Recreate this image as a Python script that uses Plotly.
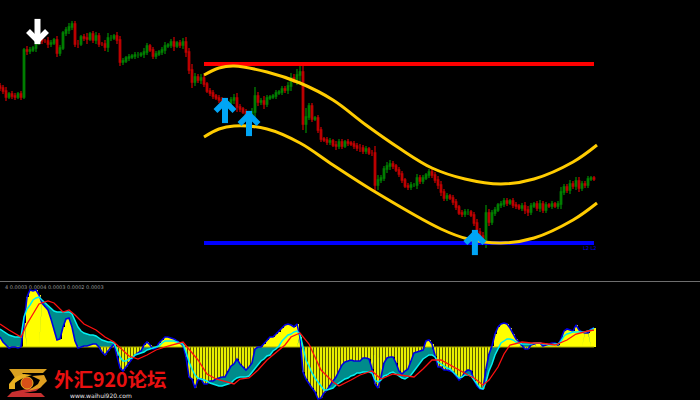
import plotly.graph_objects as go
import numpy as np

# ---------- price pane ----------
closes = [312,309,303,306,304,303,306,303,350,349,350,352,358,362,359,359,356,357,360,347,
352,367,370,373,376,356,356,363,362,361,366,360,364,356,356,353,362,362,364,360,
338,339,342,343,344,345,345,346,348,354,350,344,346,348,350,354,355,358,354,357,
355,358,348,330,318,323,320,322,316,309,307,304,302,300,297,296,297,300,302,293,
291,288,285,286,288,304,298,299,296,302,303,304,307,308,311,310,314,322,321,325,
328,276,283,294,281,282,270,261,260,258,259,255,254,258,254,258,257,256,254,252,
252,249,251,247,247,215,220,222,231,234,236,234,230,226,220,214,213,215,215,222,
219,222,225,228,225,220,215,208,202,204,202,198,193,187,186,188,188,185,177,168,
164,160,187,178,187,190,195,196,199,197,199,195,194,192,194,190,188,194,196,192,
196,190,195,194,196,194,196,208,213,210,216,214,219,212,216,215,221,222,221]
wicks = [3,3,4,2,3,3,2,3,2,4,3,2,4,3,3,2,4,3,2,4,
3,2,3,4,3,3,4,2,3,5,2,3,4,3,2,4,5,3,2,4,
4,3,2,3,2,3,3,2,4,3,2,3,3,2,3,4,2,3,5,2,
3,4,5,4,6,4,3,4,3,2,3,3,2,3,3,4,2,3,4,5,
3,2,3,3,4,9,4,3,5,3,2,2,3,2,3,3,4,5,4,6,
7,6,9,3,3,2,3,3,2,3,3,2,4,3,3,2,3,2,3,3,
4,3,3,2,3,7,5,3,3,4,4,3,2,3,3,2,3,3,2,4,
3,3,2,3,3,3,4,4,3,3,2,3,3,2,3,3,3,2,3,4,
4,4,8,4,3,3,2,3,3,3,2,3,3,2,3,4,4,3,2,3,
4,3,3,2,3,2,3,5,3,3,4,3,4,4,3,3,3,2,2]

upper_pos = [68,73,78,89,100,111,122,133,144,155,167,178,191,199]
upper_val = [325,332,334,328,317,300,275,252,232,221,216,221,238,255]
lower_pos = [68,73,78,89,100,111,124,147,156,167,178,191,199]
lower_val = [263,271,274,271,257,235,210,171,161,157,162,180,197]
resist_val = [336,336]
support_val = [157,157]
level_pos = [68,198]
sell_pos, sell_tip = [12.5], [358]
buy_pos, buy_tip = [75,83,158.3], [300,287,168]

# ---------- oscillator pane ----------
macd = [10,5,2,-1,0,0,-1,0,24,50,57,56,57,52,44,40,37,28,18,7,
8,20,28,29,20,6,-1,0,1,1,2,3,3,0,-5,-8,-4,0,3,-9,
-21,-24,-20,-15,-11,-8,-6,-4,2,5,2,-2,-1,4,7,10,10,9,8,6,
4,2,-10,-30,-32,-41,-33,-32,-37,-37,-34,-34,-32,-31,-30,-30,-24,-19,
-17,-12,-17,-20,-23,-20,-16,-2,0,0,3,7,10,10,13,15,19,22,23,22,20,23,
10,-25,-32,-37,-41,-45,-52,-51,-46,-43,-38,-34,-30,-24,-18,-15,-14,-13,-14,-14,
-14,-11,-11,-12,-22,-37,-41,-30,-16,-11,-10,-10,-16,-24,-27,-24,-22,-14,-6,-5,
-4,-3,6,7,3,-9,-20,-20,-23,-23,-24,-25,-29,-33,-30,-25,-23,-24,-33,-39,
-42,-42,-22,-7,1,13,20,23,24,23,19,13,8,5,1,-2,-2,2,3,4,
4,1,2,3,4,4,2,8,16,18,17,16,22,17,15,14,14,18,19]
signal = [18,16,14,12,11,10,10,10,30,38,42,47,49,50,47,44,41,38,36,35,
35,35,35,35,33,27,20,16,14,13,12,12,11,9,7,6,5,5,4,-3,
-10,-14,-14,-12,-11,-8,-7,-6,-5,-3,-2,-1,0,1,4,6,6,6,6,5,
4,3,-5,-15,-22,-28,-31,-32,-33,-34,-36,-37,-38,-39,-39,-38,-37,-36,
-33,-31,-30,-30,-30,-29,-25,-22,-17,-14,-12,-9,-8,-4,-2,1,6,9,12,13,15,16,
13,0,-13,-19,-26,-31,-35,-40,-43,-43,-42,-41,-38,-36,-34,-32,-31,-29,-28,-26,
-26,-25,-25,-25,-26,-33,-35,-33,-29,-28,-26,-25,-27,-29,-31,-32,-30,-28,-24,-20,
-15,-12,-10,-8,-8,-10,-15,-17,-19,-21,-22,-25,-28,-31,-30,-28,-28,-29,-33,-37,
-41,-42,-35,-24,-17,-8,-2,4,6,8,8,7,5,4,3,3,3,3,4,4,
4,3,3,2,2,3,3,6,11,13,14,15,15,15,15,15,16,17,19]
slow_pos = [0,3,7,9,11,13,16,18,21,23,25,28,32,35,38,41,43,46,49,52,56,61,63,66,69,72,78,80,83,86,89,92,95,97,100,103,107,111,113,117,120,124,127,131,134,138,141,144,147,151,156,158,161,163,166,168,170,174,177,180,185,189,192,196,198]
slow_val = [23,17,10,23,33,43,46,44,35,37,32,23,17,10,5,-3,-9,-12,-8,-3,1,5,-2,-13,-27,-32,-37,-32,-31,-23,-13,-5,2,10,14,3,-23,-35,-39,-33,-28,-24,-32,-27,-28,-30,-22,-13,-13,-20,-28,-31,-38,-33,-20,-7,2,5,4,4,2,7,13,16,17]

osc_labels = "4 0.0003 0.0004 0.0003 0.0002 0.0003"
site_name = "外汇920论坛"
site_url = "www.waihui920.com"

# ---------- derived ----------
closes = np.array(closes, float)
opens = np.r_[closes[0] + 2, closes[:-1]]
wicks = np.array(wicks, float)
highs = np.maximum(opens, closes) + wicks
lows = np.minimum(opens, closes) - wicks
idx = np.arange(len(closes))

macd = np.array(macd, float)
signal = np.array(signal, float)
n = min(len(macd), len(signal))
macd, signal = macd[:n], signal[:n]
oidx = np.arange(n)
# teal band between the two lines, clipped at the zero line
band_lo = np.where(signal > macd, np.maximum(macd, 0), np.minimum(signal, 0))
band_hi = np.where(signal > macd, np.maximum(signal, np.maximum(macd, 0)), np.minimum(macd, 0))
pos = macd >= 0

fig = go.Figure()
P = dict(xaxis="x", yaxis="y2")
O = dict(xaxis="x", yaxis="y")
none = dict(showlegend=False, hoverinfo="skip")

# oscillator
fig.add_bar(x=oidx[pos], y=macd[pos], width=1.0, marker=dict(color="#ffff00", line_width=0), **O, **none)
fig.add_bar(x=oidx[~pos], y=macd[~pos], width=1.0, marker=dict(color="#5a5a00", line_width=0), **O, **none)
fig.add_bar(x=oidx[~pos], y=macd[~pos], width=0.62, marker=dict(color="#e8f000", line_width=0), **O, **none)
fig.add_scatter(x=oidx, y=band_lo, mode="lines", line=dict(width=0, color="#008b8b"), **O, **none)
fig.add_scatter(x=oidx, y=band_hi, mode="lines", line=dict(width=0, color="#008b8b"),
                fill="tonexty", fillcolor="#008b8b", **O, **none)
fig.add_scatter(x=[0, n - 1], y=[0, 0], mode="lines", line=dict(width=1, color="#b0b000"), **O, **none)
fig.add_scatter(x=oidx, y=macd, mode="lines", line=dict(width=1.6, color="#0000e0"), **O, **none)
fig.add_scatter(x=oidx, y=signal, mode="lines", line=dict(width=1.5, color="#00f0f0"), **O, **none)
fig.add_scatter(x=slow_pos, y=slow_val, mode="lines", line=dict(width=1.3, color="#ff1010"), **O, **none)

# price
fig.add_candlestick(x=idx, open=opens, high=highs, low=lows, close=closes,
                    increasing=dict(line=dict(color="#008000", width=1.3), fillcolor="#008000"),
                    decreasing=dict(line=dict(color="#c00000", width=1.3), fillcolor="#c00000"),
                    whiskerwidth=0, **P, **none)
fig.add_scatter(x=level_pos, y=resist_val, mode="lines", line=dict(width=4, color="#ff0000"), **P, **none)
fig.add_scatter(x=level_pos, y=support_val, mode="lines", line=dict(width=4, color="#0000ff"), **P, **none)
for pos_, val_ in ((upper_pos, upper_val), (lower_pos, lower_val)):
    fig.add_scatter(x=pos_, y=val_, mode="lines", line=dict(width=3, color="#ffcc00", shape="spline"), **P, **none)

# arrows: shaft plus two barbs, placed from the tip value
def arrow(xs, tips, colour, direction):
    xs = np.array(xs, float)
    tips = np.array(tips, float)
    mk = lambda sym, size, w: dict(symbol=sym, size=size, line=dict(width=w, color=colour), color=colour)
    first, second = ("line-ne", "line-nw") if direction > 0 else ("line-nw", "line-ne")
    fig.add_scatter(x=xs, y=tips - direction * 10.5, mode="markers", marker=mk("line-ns", 18, 6), **P, **none)
    fig.add_scatter(x=xs - 1.5, y=tips - direction * 6, mode="markers", marker=mk(first, 10, 5.5), **P, **none)
    fig.add_scatter(x=xs + 1.5, y=tips - direction * 6, mode="markers", marker=mk(second, 10, 5.5), **P, **none)
arrow(buy_pos, buy_tip, "#00a5f5", 1)
arrow(sell_pos, sell_tip, "#ffffff", -1)

W, H = 700, 400
def px(x): return x / W
def py(y): return 1 - y / H
def path(points):
    return "M " + " L ".join(f"{px(a):.4f},{py(b):.4f}" for a, b in points) + " Z"

shapes = [
    # pane divider
    dict(type="line", xref="paper", yref="paper", x0=0, x1=1, y0=py(281.5), y1=py(281.5),
         line=dict(color="#6e6e6e", width=1.2)),
    # logo
    dict(type="path", xref="paper", yref="paper", path=path([(9,369),(47,369),(43,373),(22,373),(26,377),(17,381),(12,373)]),
         fillcolor="#d8a020", line_width=0),
    dict(type="path", xref="paper", yref="paper", path=path([(7,397),(45,397),(41,393),(24,393),(36,391),(42,386),(12,392)]),
         fillcolor="#c83030", line_width=0),
    dict(type="path", xref="paper", yref="paper", path=path([(9,384),(15,377),(24,374),(32,375),(22,378),(15,383),(15,389),(9,389)]),
         fillcolor="#e8b020", line_width=0),
    dict(type="path", xref="paper", yref="paper", path=path([(32,376),(44,375),(47,381),(40,388),(28,391),(38,384),(40,380)]),
         fillcolor="#e0a020", line_width=0),
    dict(type="circle", xref="paper", yref="paper", x0=px(21), x1=px(33), y0=py(389), y1=py(377),
         fillcolor="#d85018", line=dict(color="#f0b020", width=1)),
]
ann = dict(xref="paper", yref="paper", showarrow=False, xanchor="center", yanchor="middle")
annotations = [
    dict(ann, x=px(3), y=py(286.5), text=osc_labels, xanchor="left",
         font=dict(size=5, color="#9a9a9a", family="DejaVu Sans")),
    dict(ann, x=px(111), y=py(378.5), text=f"<b>{site_name}</b>",
         font=dict(size=19.5, color="#e81010", family="Noto Sans CJK SC")),
    dict(ann, x=px(101), y=py(395.5), text=site_url,
         font=dict(size=6, color="#e8e8e8", family="DejaVu Sans")),
    dict(ann, x=px(590), y=py(247.5), text="L2 L2",
         font=dict(size=5, color="#0000e0", family="DejaVu Sans")),
]

fig.update_layout(
    width=W, height=H, margin=dict(l=0, r=0, t=0, b=0),
    paper_bgcolor="#000000", plot_bgcolor="#000000", showlegend=False, barmode="overlay", bargap=0,
    xaxis=dict(range=[0, W / 3], visible=False, rangeslider=dict(visible=False), fixedrange=True),
    yaxis=dict(domain=[0, 117 / 400], range=[-53, 64], visible=False, fixedrange=True),
    yaxis2=dict(domain=[119 / 400, 1], range=[119, 400], visible=False, fixedrange=True),
    shapes=shapes, annotations=annotations,
)
fig.write_html("out.html", config={"displayModeBar": False},
               post_script="document.body.style.margin='0';document.body.style.background='#000';")
